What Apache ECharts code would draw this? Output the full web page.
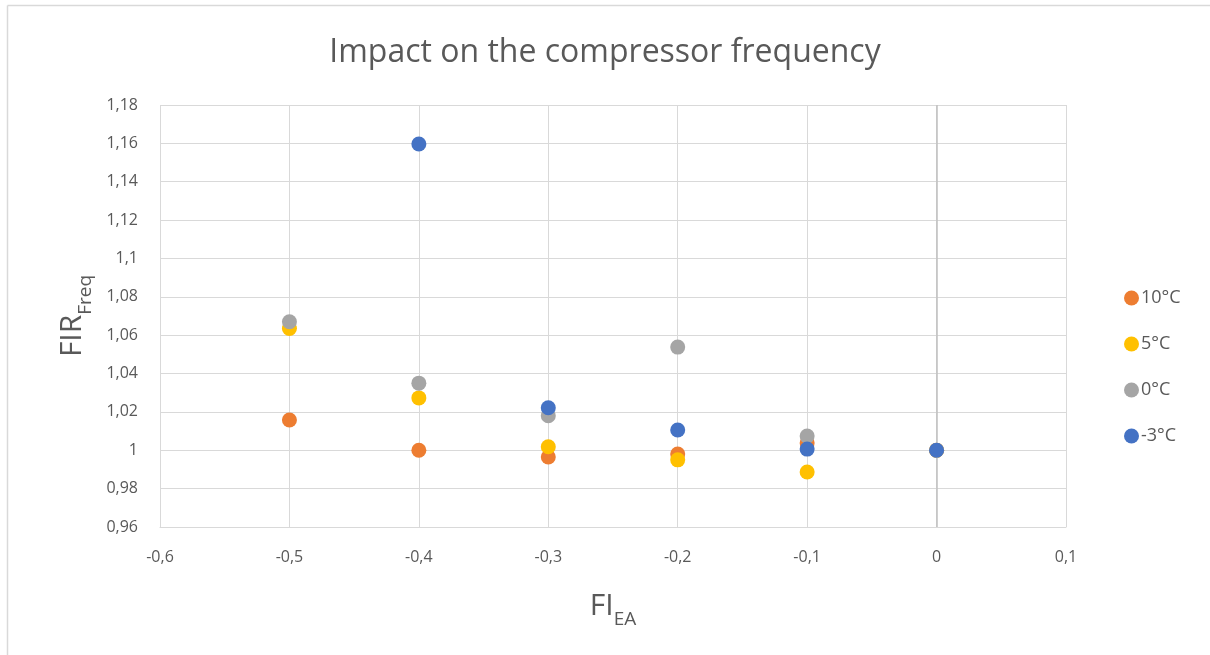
<!DOCTYPE html>
<html>
<head>
<meta charset="utf-8">
<script src="https://cdn.jsdelivr.net/npm/echarts@6/dist/echarts.min.js"></script>
<style>html,body{margin:0;padding:0;background:#fff}#c{width:1210px;height:655px}</style>
</head>
<body>
<div id="c"></div>
<script>
const xValues = [-0.5, -0.4, -0.3, -0.2, -0.1, 0];
const seriesNames = ['10°C', '5°C', '0°C', '-3°C'];
const s10 = [1.0158, 1.0000, 0.9965, 0.9980, 1.0038, 1.0000];
const s5 = [1.0635, 1.0273, 1.0018, 0.9950, 0.9887, 1.0000];
const s0 = [1.0670, 1.0350, 1.0180, 1.0538, 1.0074, 1.0000];
const sm3 = [null, 1.1597, 1.0222, 1.0106, 1.0006, 1.0000];
const colors = ['#ED7D31', '#FFC000', '#A5A5A5', '#4472C4'];
const title = 'Impact on the compressor frequency';

const allData = [s10, s5, s0, sm3];
const FONT = '"Open Sans", "Noto Sans", sans-serif';
const fmt = v => String(Math.round(v * 100) / 100).replace('.', ',');

const chart = echarts.init(document.getElementById('c'));
chart.setOption({
  animation: false,
  textStyle: { fontFamily: FONT },
  title: {
    text: title, left: 'center', top: 32,
    textStyle: { fontFamily: FONT, fontSize: 32, fontWeight: 'normal', color: '#595959' }
  },
  graphic: [
    { type: 'line', shape: { x1: 7.5, y1: 5.5, x2: 1210, y2: 5.5 }, style: { stroke: '#d9d9d9', lineWidth: 1.5 } },
    { type: 'line', shape: { x1: 7.5, y1: 5.5, x2: 7.5, y2: 655 }, style: { stroke: '#d9d9d9', lineWidth: 1.5 } }
  ],
  legend: {
    orient: 'vertical', left: 1119, top: 284, itemGap: 28, itemWidth: 15, itemHeight: 15,
    icon: 'circle', data: seriesNames,
    textStyle: { fontFamily: FONT, fontSize: 18, color: '#595959', padding: [0, 0, 0, -3] }
  },
  grid: { left: 160, right: 144, top: 105, bottom: 128 },
  xAxis: {
    type: 'value', min: -0.6, max: 0.1, interval: 0.1,
    name: '{a|FI}{b|EA}', nameLocation: 'middle', nameGap: 64,
    nameTextStyle: { rich: {
      a: { fontFamily: FONT, fontSize: 30, color: '#595959', verticalAlign: 'bottom' },
      b: { fontFamily: FONT, fontSize: 19, color: '#595959', verticalAlign: 'bottom', padding: [0, 0, -8, 0] }
    } },
    axisLine: { show: true, lineStyle: { color: '#d9d9d9' } },
    axisTick: { show: false },
    splitLine: { show: true, lineStyle: { color: '#d9d9d9', width: 1 } },
    axisLabel: { formatter: fmt, fontSize: 16, color: '#595959', margin: 22 }
  },
  yAxis: {
    type: 'value', min: 0.96, max: 1.18, interval: 0.02,
    name: '{a|FIR}{b|Freq}', nameLocation: 'middle', nameRotate: 90, nameGap: 67,
    nameTextStyle: { rich: {
      a: { fontFamily: FONT, fontSize: 30, color: '#595959', verticalAlign: 'bottom' },
      b: { fontFamily: FONT, fontSize: 19, color: '#595959', verticalAlign: 'bottom', padding: [0, 0, -8, 0] }
    } },
    axisLine: { show: false },
    axisTick: { show: false },
    splitLine: { show: true, lineStyle: { color: '#d9d9d9', width: 1 } },
    axisLabel: { formatter: fmt, fontSize: 16, color: '#595959', margin: 22 }
  },
  series: allData.map((d, i) => ({
    name: seriesNames[i], type: 'scatter', symbolSize: 15,
    itemStyle: { color: colors[i], opacity: 1 },
    data: xValues.map((x, j) => d[j] == null ? null : [x, d[j]]).filter(p => p),
    markLine: i === 0 ? {
      silent: true, symbol: 'none', label: { show: false },
      lineStyle: { color: '#bfbfbf', type: 'solid', width: 1.5 },
      data: [{ xAxis: 0 }]
    } : undefined,
    z: 2 + i
  }))
});
</script>
</body>
</html>
